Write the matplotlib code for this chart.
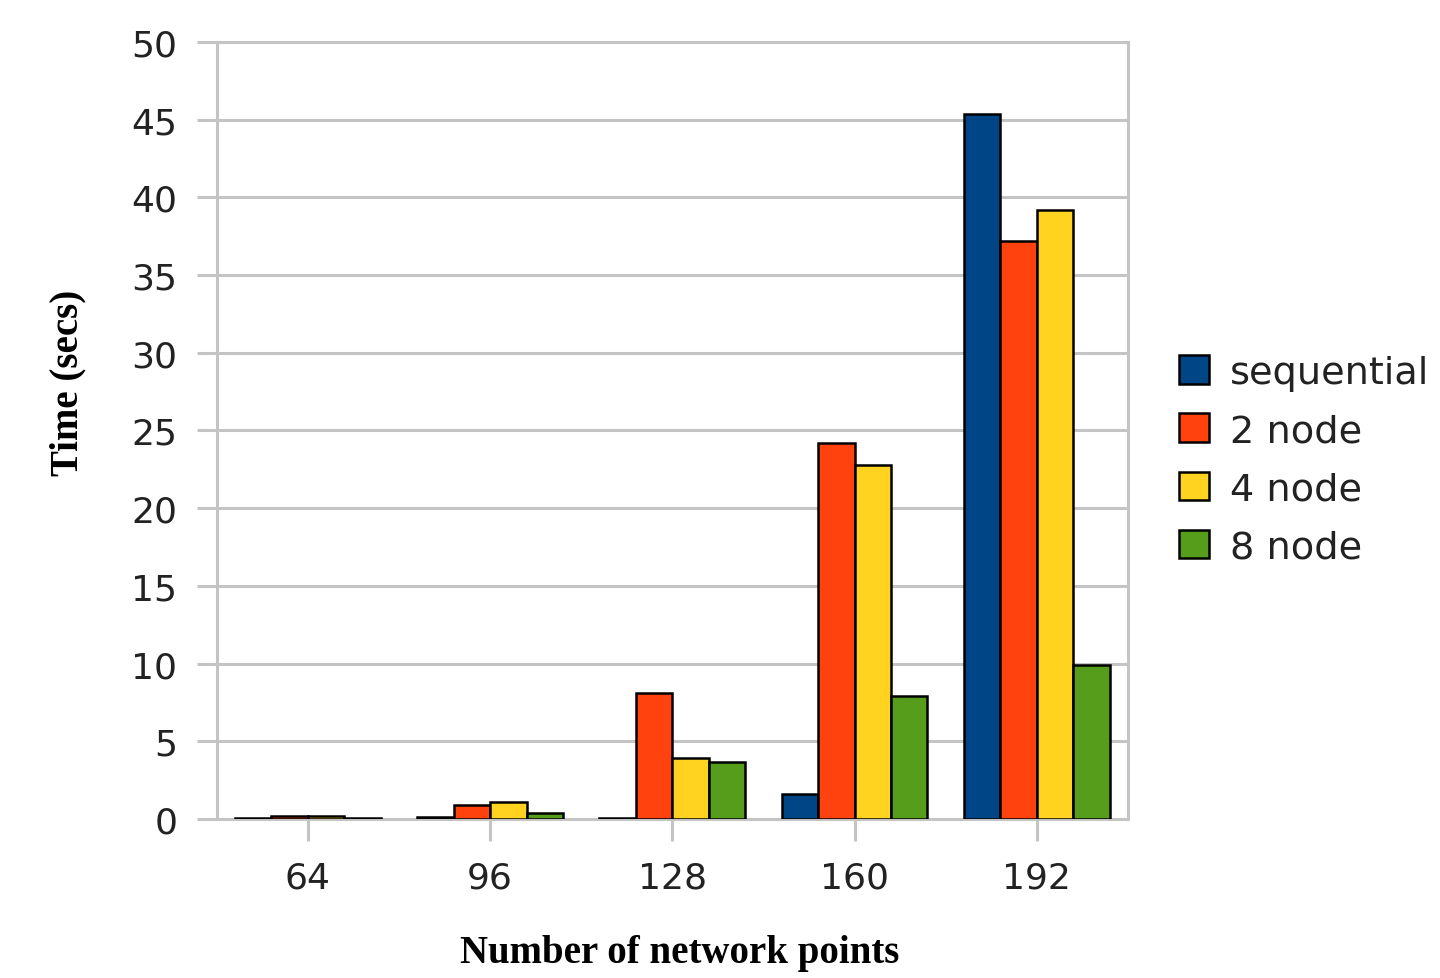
import matplotlib
matplotlib.use("Agg")
import matplotlib.pyplot as plt
import numpy as np

categories = ["64", "96", "128", "160", "192"]
series_names = ["sequential", "2 node", "4 node", "8 node"]
sequential = [0.05, 0.15, 0.05, 1.6, 45.4]
node2 = [0.2, 0.9, 8.1, 24.2, 37.2]
node4 = [0.2, 1.1, 3.9, 22.8, 39.2]
node8 = [0.05, 0.4, 3.65, 7.9, 9.9]
colors = ["#004586", "#ff420e", "#ffd320", "#579d1c"]
y_ticks = list(range(0, 55, 5))

fig = plt.figure(figsize=(14.4, 9.79), dpi=100)
ax = fig.add_axes([0.1505, 0.1625, 0.6328, 0.7935])

grid_col = "#c4c4c4"
x = np.arange(len(categories))
width = 0.2
all_series = [sequential, node2, node4, node8]
for i, (vals, name, col) in enumerate(zip(all_series, series_names, colors)):
    ax.bar(x + (i - 1.5) * width, vals, width, color=col, edgecolor="black",
           linewidth=1.8, label=name, zorder=3)

ax.set_xlim(-0.5, len(categories) - 0.5)
ax.set_ylim(0, 50)
ax.set_yticks(y_ticks)
ax.set_xticks(x)
ax.set_xticklabels(categories)
ax.yaxis.grid(True, color=grid_col, linewidth=2.2, zorder=0)
ax.set_axisbelow(True)
for s in ax.spines.values():
    s.set_color(grid_col)
    s.set_linewidth(2.2)

ax.tick_params(axis="y", length=14.5, width=2.2, color=grid_col, pad=14,
               labelsize=26, labelcolor="#222222")
ax.tick_params(axis="x", length=16, width=2.2, color=grid_col, pad=14,
               labelsize=26, labelcolor="#222222")

fig.text(0.047, 0.609, "Time (secs)", rotation=90, ha="center", va="center",
         family="Liberation Serif", fontweight="bold", fontsize=28)
fig.text(0.472, 0.026, "Number of network points", ha="center", va="center",
         family="Liberation Serif", fontweight="bold", fontsize=28)

leg = fig.legend(loc="upper left", bbox_to_anchor=(0.808, 0.652), frameon=False,
                 fontsize=27.5, handlelength=0.78, handleheight=0.78,
                 handletextpad=0.55, labelspacing=0.58, borderaxespad=0)
for t in leg.get_texts():
    t.set_color("#222222")

fig.savefig("out.png", dpi=100)
